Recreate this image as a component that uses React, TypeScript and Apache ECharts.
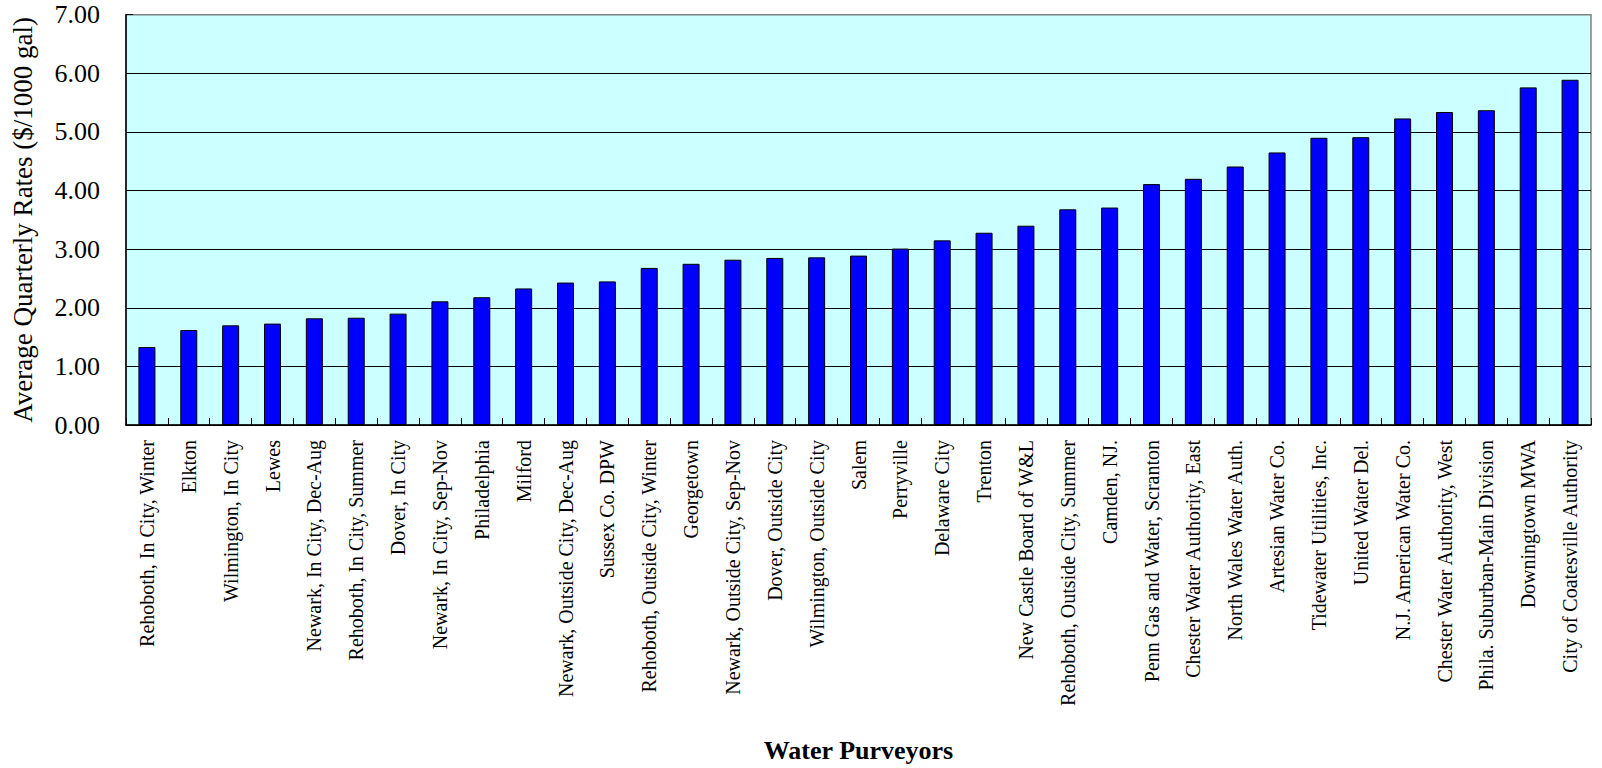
import React, { useEffect, useRef } from "react";
import * as echarts from "echarts";

const purveyors: string[] = [
  "Rehoboth, In City, Winter",
  "Elkton",
  "Wilmington, In City",
  "Lewes",
  "Newark, In City, Dec-Aug",
  "Rehoboth, In City, Summer",
  "Dover, In City",
  "Newark, In City, Sep-Nov",
  "Philadelphia",
  "Milford",
  "Newark, Outside City, Dec-Aug",
  "Sussex Co. DPW",
  "Rehoboth, Outside City, Winter",
  "Georgetown",
  "Newark, Outside City, Sep-Nov",
  "Dover, Outside City",
  "Wilmington, Outside City",
  "Salem",
  "Perryville",
  "Delaware City",
  "Trenton",
  "New Castle Board of W&L",
  "Rehoboth, Outside City, Summer",
  "Camden, NJ.",
  "Penn Gas and Water, Scranton",
  "Chester Water Authority, East",
  "North Wales Water Auth.",
  "Artesian Water Co.",
  "Tidewater Utilities, Inc.",
  "United Water Del.",
  "N.J. American Water Co.",
  "Chester Water Authority, West",
  "Phila. Suburban-Main Division",
  "Downingtown MWA",
  "City of Coatesville Authority",
];

const rates: number[] = [
  1.33, 1.62, 1.7, 1.73, 1.82, 1.83, 1.9, 2.11, 2.18, 2.33, 2.43, 2.45, 2.68,
  2.75, 2.82, 2.85, 2.86, 2.89, 3.01, 3.15, 3.28, 3.4, 3.68, 3.71, 4.11, 4.2,
  4.41, 4.65, 4.9, 4.91, 5.23, 5.34, 5.37, 5.76, 5.89,
];

const yMin = 0;
const yMax = 7;
const yStep = 1;

const xTitle = "Water Purveyors";
const yTitle = "Average Quarterly Rates ($/1000 gal)";

const FONT = "'Liberation Serif', 'Times New Roman', serif";

export default function App() {
  const ref = useRef<HTMLDivElement>(null);

  useEffect(() => {
    if (!ref.current) return;
    const chart = echarts.init(ref.current, undefined, { renderer: "svg" });
    chart.setOption({
      animation: false,
      backgroundColor: "#ffffff",
      grid: {
        left: 126,
        right: 11,
        top: 14.7,
        bottom: 342.7,
        show: true,
        backgroundColor: "#CCFFFF",
        borderColor: "#808080",
        borderWidth: 1.5,
      },
      xAxis: {
        type: "category",
        data: purveyors,
        name: xTitle,
        nameLocation: "middle",
        nameGap: 312,
        nameTextStyle: {
          fontFamily: FONT,
          fontSize: 26,
          fontWeight: "bold",
          color: "#000",
        },
        axisLine: { show: true, lineStyle: { color: "#000", width: 1.5 } },
        axisTick: {
          show: true,
          inside: true,
          length: 7,
          lineStyle: { color: "#000", width: 1 },
        },
        axisLabel: {
          interval: 0,
          rotate: 90,
          margin: 15,
          fontFamily: FONT,
          fontSize: 20,
          color: "#000",
        },
        splitLine: { show: false },
      },
      yAxis: {
        type: "value",
        min: yMin,
        max: yMax,
        interval: yStep,
        name: yTitle,
        nameLocation: "middle",
        nameGap: 90,
        nameRotate: 90,
        nameTextStyle: {
          fontFamily: FONT,
          fontSize: 27,
          color: "#000",
        },
        axisLine: { show: true, lineStyle: { color: "#000", width: 1.5 } },
        axisTick: {
          show: true,
          inside: true,
          length: 7,
          lineStyle: { color: "#000", width: 1 },
        },
        axisLabel: {
          margin: 26,
          fontFamily: FONT,
          fontSize: 26,
          color: "#000",
          padding: [7, 0, 0, 0],
          formatter: (v: number) => v.toFixed(2),
        },
        splitLine: {
          show: true,
          showMaxLine: false,
          lineStyle: { color: "#000", width: 1.2 },
        },
      },
      series: [
        {
          type: "bar",
          data: rates,
          barWidth: 17,
          itemStyle: {
            color: "#0000FF",
            borderColor: "#000",
            borderWidth: 1,
          },
        },
      ],
    });
    return () => chart.dispose();
  }, []);

  return (
    <div
      ref={ref}
      style={{
        position: "fixed",
        left: 0,
        top: 0,
        width: "1602px",
        height: "768px",
      }}
    />
  );
}
